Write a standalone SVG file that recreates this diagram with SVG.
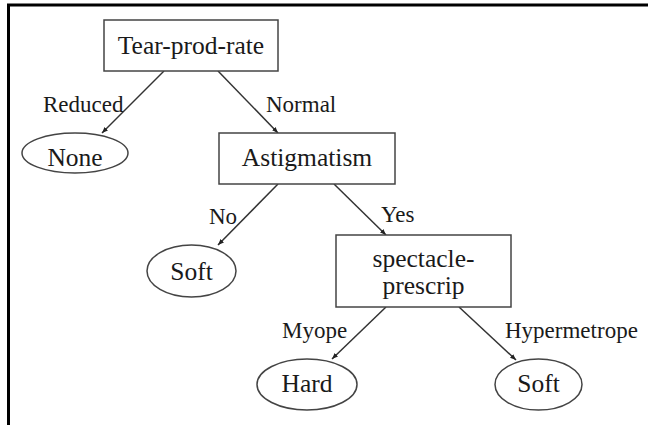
<svg xmlns="http://www.w3.org/2000/svg" width="648" height="425" viewBox="0 0 648 425">
<style>
.box{fill:#fff;stroke:#444;stroke-width:1.5}
.ell{fill:#fff;stroke:#444;stroke-width:1.5}
.nt{font-family:"Liberation Serif","Times New Roman",serif;font-size:25.5px;fill:#1a1a1a;text-anchor:middle}
.lt{font-family:"Liberation Serif","Times New Roman",serif;font-size:23px;fill:#1a1a1a}
.edge{stroke:#333;stroke-width:1.5;fill:none;marker-end:url(#ah)}
</style>
<defs>
<marker id="ah" viewBox="0 0 10 10" refX="10" refY="5" markerWidth="6" markerHeight="6" markerUnits="userSpaceOnUse" orient="auto">
<path d="M0,1 L10,5 L0,9 z" fill="#222"/>
</marker>
</defs>
<rect width="648" height="425" fill="#fff"/>
<g id="frame">
<line x1="7" y1="5" x2="648" y2="5" stroke="#000" stroke-width="3"/>
<line x1="8.5" y1="4" x2="8.5" y2="425" stroke="#000" stroke-width="3"/>
</g>
<g id="connectors">
<line class="edge" x1="164" y1="71" x2="102" y2="133"/>
<line class="edge" x1="218" y1="71" x2="278" y2="133"/>
<line class="edge" x1="278" y1="184" x2="218" y2="245"/>
<line class="edge" x1="334" y1="184" x2="386" y2="235"/>
<line class="edge" x1="386" y1="307" x2="332" y2="359"/>
<line class="edge" x1="459" y1="307" x2="516" y2="360"/>
<text class="lt" x="43" y="112">Reduced</text>
<text class="lt" x="266" y="112">Normal</text>
<text class="lt" x="209" y="224">No</text>
<text class="lt" x="381" y="222">Yes</text>
<text class="lt" x="282" y="338">Myope</text>
<text class="lt" x="505" y="338">Hypermetrope</text>
</g>
<g id="tear">
<rect class="box" x="104" y="20" width="174" height="51"/>
<text class="nt" x="191" y="54">Tear-prod-rate</text>
</g>
<g id="none">
<ellipse class="ell" cx="75" cy="153" rx="53" ry="20"/>
<text class="nt" x="75" y="166">None</text>
</g>
<g id="astig">
<rect class="box" x="219" y="133" width="176" height="51"/>
<text class="nt" x="307" y="166">Astigmatism</text>
</g>
<g id="soft1">
<ellipse class="ell" cx="191.5" cy="271" rx="44.5" ry="26"/>
<text class="nt" x="191.5" y="280">Soft</text>
</g>
<g id="spect">
<rect class="box" x="336" y="235" width="175" height="72"/>
<text class="nt" x="423.5" y="267">spectacle-</text>
<text class="nt" x="423.5" y="294">prescrip</text>
</g>
<g id="hard">
<ellipse class="ell" cx="307" cy="384.5" rx="50" ry="25.5"/>
<text class="nt" x="307" y="392">Hard</text>
</g>
<g id="soft2">
<ellipse class="ell" cx="538.5" cy="384.5" rx="43.5" ry="25.5"/>
<text class="nt" x="538.5" y="392">Soft</text>
</g>
</svg>
